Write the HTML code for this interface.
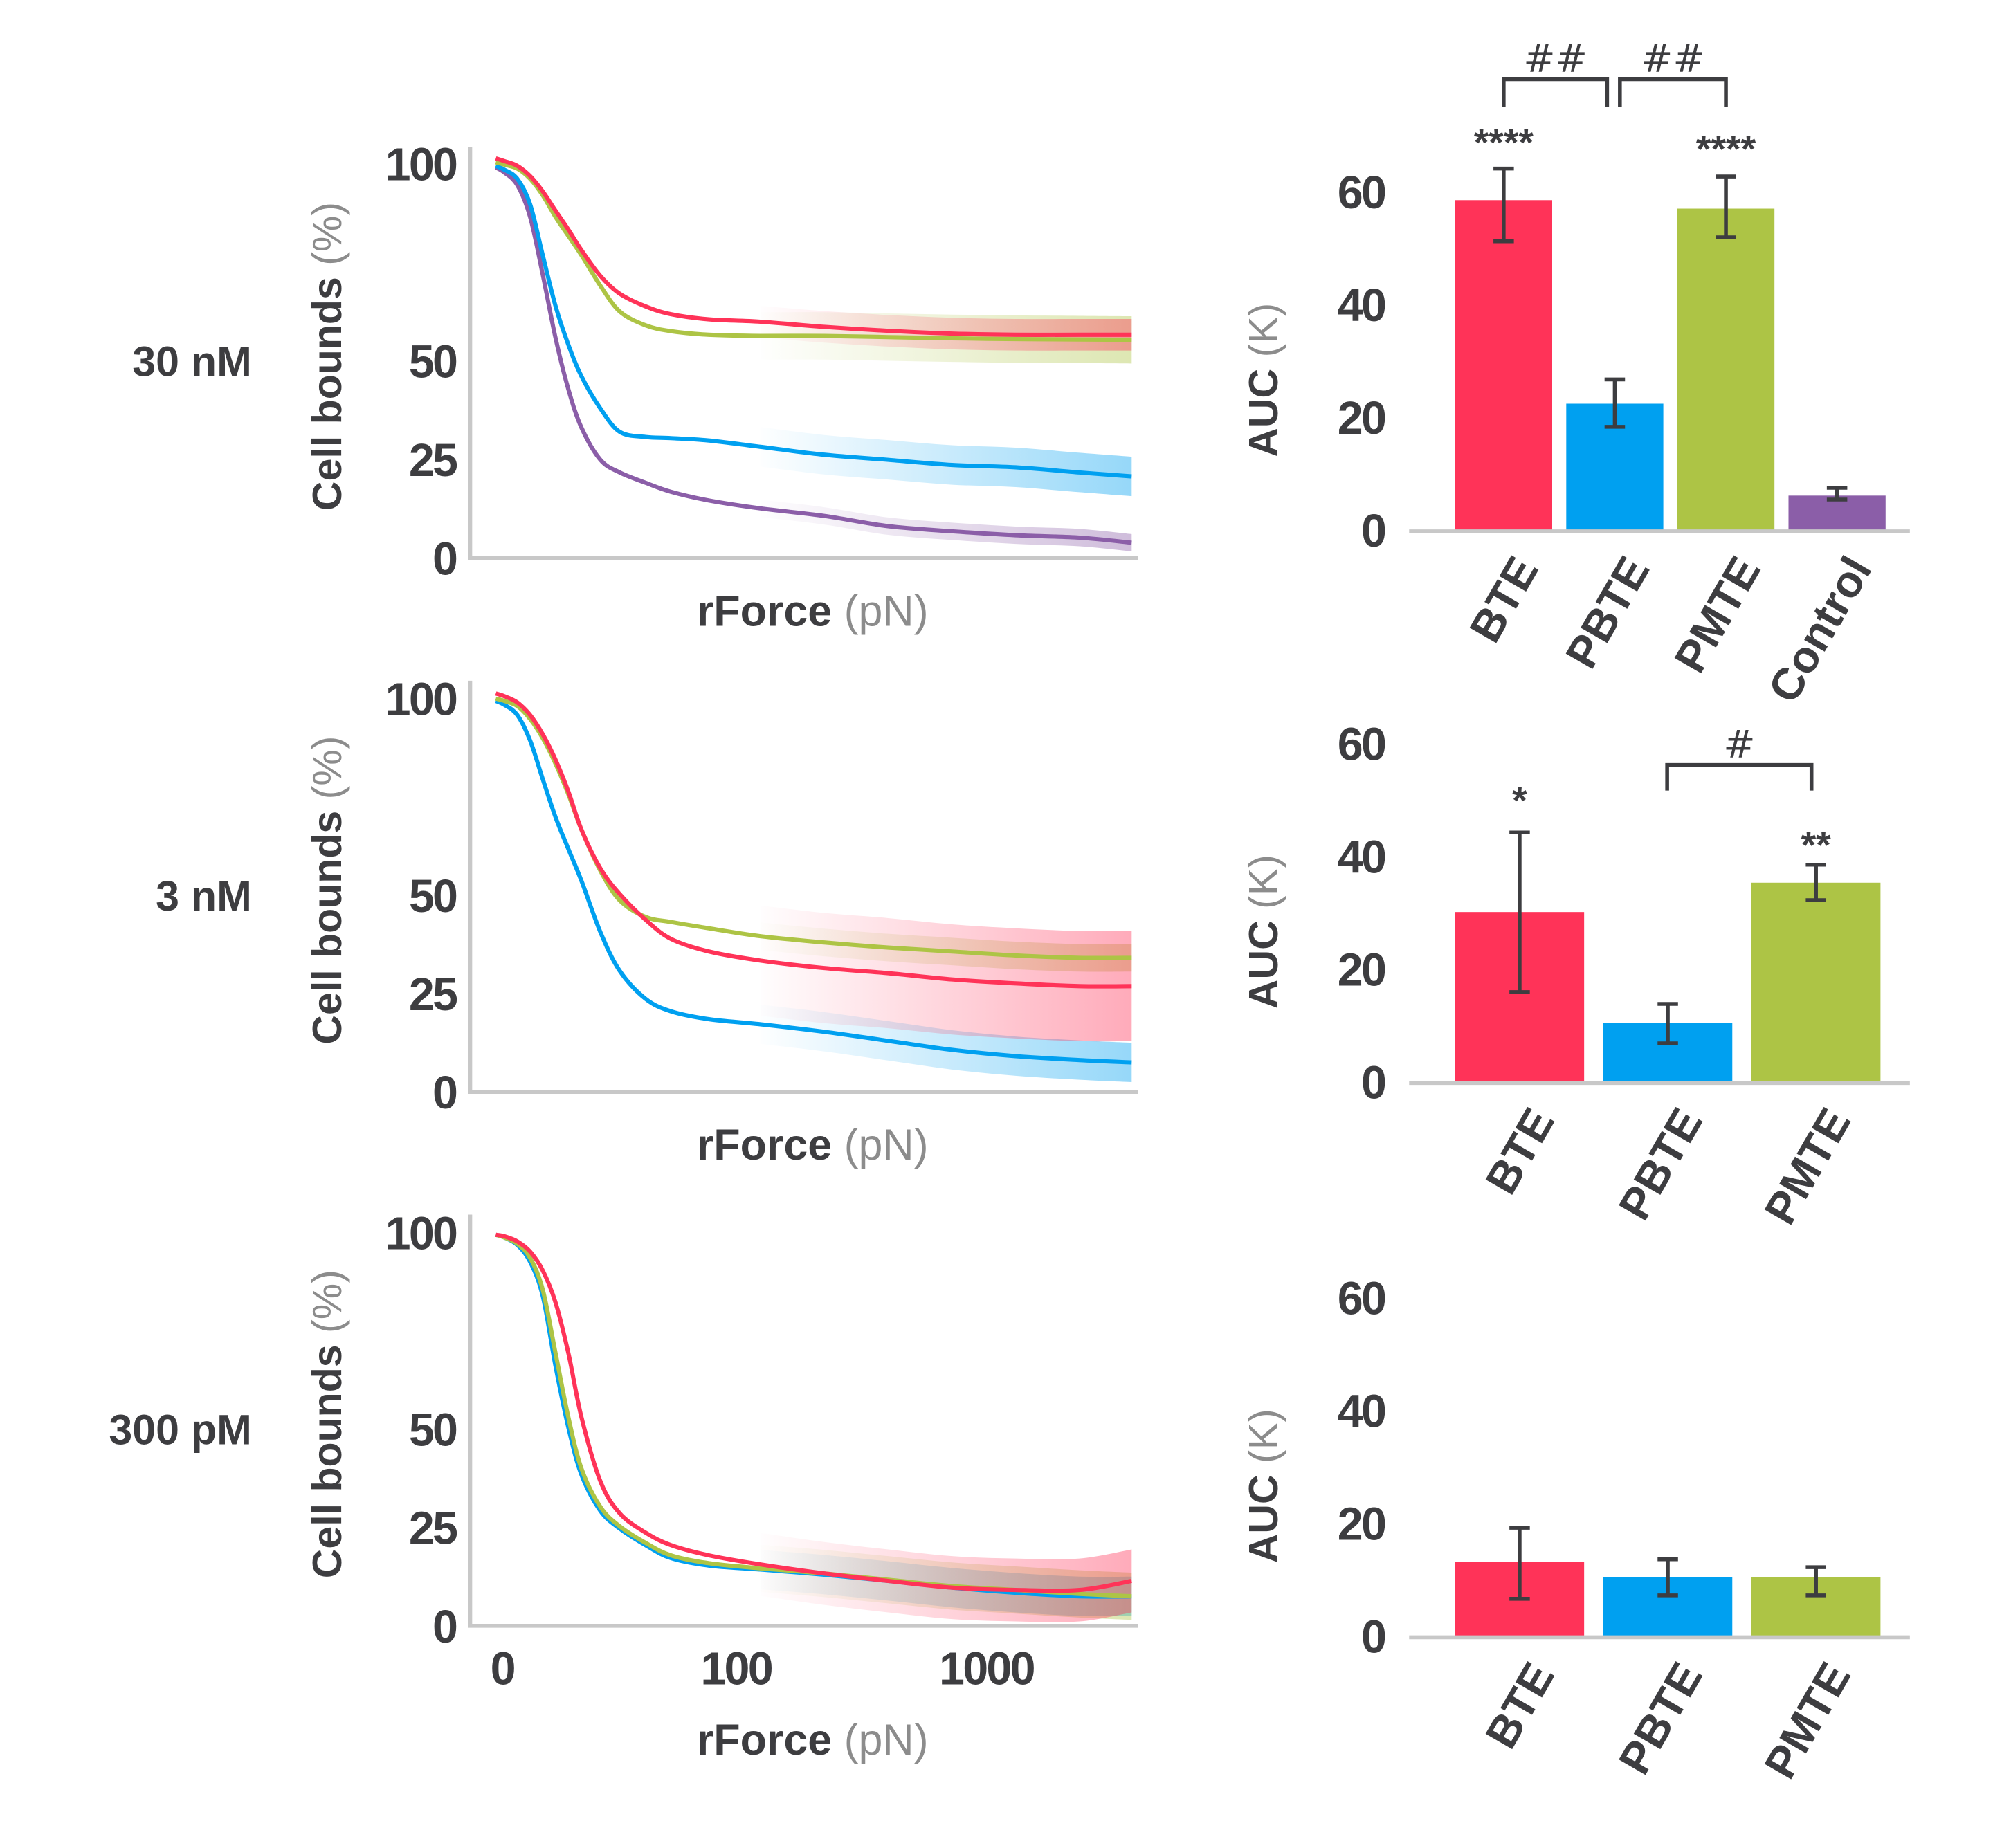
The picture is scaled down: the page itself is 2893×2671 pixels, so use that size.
<!DOCTYPE html>
<html><head><meta charset="utf-8">
<style>
html,body{margin:0;padding:0;background:#fff;}
svg{display:block;font-family:"Liberation Sans",sans-serif;}
</style></head>
<body>
<svg id="fig" width="2893" height="2671" viewBox="0 0 1567 1447" xmlns="http://www.w3.org/2000/svg">
<defs id="defs"></defs>
</svg>
<script>
// ---------- data ----------
const forces = [0,1.1,2.9,4.9,7.1,9.6,12.4,15.6,20.9,27.3,37.7,50.6,76,127,232,416,737,1295,2270,3590];
const xTickValues = [0,100,1000];
const xTickLabels = ['0','100','1000'];
const yTickValues = [0,25,50,100];
const seriesNames = ['BTE','PBTE','PMTE','Control'];
const conc = ['30 nM','3 nM','300 pM'];

// panel 1 (30 nM)
const p1Red   = [101.3,100.6,99.4,96.8,92.9,88.0,83.2,78.0,71.5,67.0,63.8,61.8,60.5,59.9,58.6,57.6,56.9,56.6,56.6,56.6];
const p1Blue  = [99.4,98.4,96.1,89.6,76.7,63.8,54.0,46.0,37.9,32.0,30.7,30.4,29.8,28.2,26.2,24.9,23.6,23.0,21.7,20.7];
const p1Green = [100.3,99.7,98.7,96.1,91.9,86.4,81.6,76.7,69.0,62.5,59.0,57.5,56.6,56.3,56.3,56.0,55.7,55.5,55.4,55.3];
const p1Purple= [99.0,97.7,94.5,86.4,71.8,55.7,42.7,33.0,24.9,21.7,19.1,16.8,14.6,12.6,10.7,8.1,6.8,5.8,5.2,3.9];
const p1RedErr = 4, p1BlueErr = 5, p1GreenErr = 6, p1PurpleErr = 2.2;
// panel 2 (3 nM)
const p2Red   = [101.3,100.6,99.0,95.8,90.9,84.4,76.3,66.6,56.8,50.3,43.8,38.9,35.7,33.4,31.5,30.2,28.6,27.6,26.9,26.9];
const p2Blue  = [99.4,98.4,95.8,89.3,79.5,69.8,61.7,53.6,40.6,30.8,23.7,20.5,18.5,17.2,15.3,13.0,10.7,9.1,8.1,7.5];
const p2Green = [100,99.4,98.1,94.8,89.9,83.4,75.6,66.6,56.2,48.7,44.5,43.2,41.6,39.6,38.0,36.7,35.7,34.7,34.1,34.1];
const p2RedErr = 14, p2BlueErr = 5, p2GreenErr = 3.5;
// panel 3 (300 pM)
const p3Red   = [99.4,99.0,97.7,95.1,90.3,82.1,69.2,52.9,36.7,28.6,23.7,20.5,17.9,15.6,13.3,11.4,9.7,9.1,9.1,11.4];
const p3Blue  = [99.4,98.7,96.8,92.5,83.8,65.9,50.3,38.3,29.2,24.7,20.5,17.2,15.3,14.3,13.0,11.4,9.7,8.4,7.5,7.5];
const p3Green = [99.4,98.7,97.1,93.5,85.4,69.2,52.9,39.9,30.2,25.3,21.1,17.9,15.9,14.6,13.3,11.7,10.1,9.1,8.1,7.5];
const p3RedErr = 8, p3BlueErr = 5, p3GreenErr = 6;

// bar charts
const auc1 = [58.5,22.4,57.0,6.1];
const auc1Lo = [51.2,18.3,51.9,5.4];
const auc1Hi = [64.1,26.7,62.7,7.5];
const auc2 = [30.1,10.4,35.3];
const auc2Lo = [15.9,6.8,32.2];
const auc2Hi = [44.2,13.8,38.5];
const auc3 = [13.1,10.4,10.4];
const auc3Lo = [6.6,7.2,7.2];
const auc3Hi = [19.2,13.6,12.2];
const aucTicks = [0,20,40,60];

// ---------- helpers ----------
const NS='http://www.w3.org/2000/svg';
const svg=document.getElementById('fig');
const defs=document.getElementById('defs');
const TXT='#3d3d40', GREY='#8c8c8c', AX='#c8c8c8';
const COL={red:'#ff3358',blue:'#00a0f0',green:'#adc445',purple:'#8b5ea8'};
function mk(tag,attrs,parent){const e=document.createElementNS(NS,tag);for(const k in attrs)e.setAttribute(k,attrs[k]);(parent||svg).appendChild(e);return e;}
function smooth(pts){let d='M'+pts[0][0]+','+pts[0][1];for(let i=0;i<pts.length-1;i++){const p0=pts[i-1]||pts[i],p1=pts[i],p2=pts[i+1],p3=pts[i+2]||p2;
 const c1=[p1[0]+(p2[0]-p0[0])/6,p1[1]+(p2[1]-p0[1])/6],c2=[p2[0]-(p3[0]-p1[0])/6,p2[1]-(p3[1]-p1[1])/6];
 d+=' C'+c1[0]+','+c1[1]+' '+c2[0]+','+c2[1]+' '+p2[0]+','+p2[1];}return d;}
const X0=388, K=206.5;
function xs(f){return X0+K*Math.log10(1+f/14);}

function linePanel(idx,top,y0,y100,series){
  const g=mk('g',{});
  
  
  const ys=v=>y0-(y0-y100)*v/100;
  const rl=mk('text',{x:197,y:ys(50)+12,'text-anchor':'end','font-size':33,'font-weight':'bold',fill:TXT},g);
  rl.textContent=conc[idx];
  
  
  const ax=mk('path',{d:`M368,${top} L368,${y0} L891,${y0}`,fill:'none',stroke:AX,'stroke-width':3},g);
  
  
  yTickValues.forEach(v=>{const t=mk('text',{x:357,y:ys(v)+13,'text-anchor':'end','font-size':36,'font-weight':'bold',fill:TXT,'letter-spacing':-1.5},g);t.textContent=String(v);
    
    });
  const yt=mk('text',{transform:`translate(267,${(top+y0)/2+3}) rotate(-90)`,'text-anchor':'middle','font-size':32,'font-weight':'bold',fill:TXT},g);
  yt.innerHTML='Cell bounds <tspan fill="'+GREY+'" font-weight="normal">(%)</tspan>';
  
  
  const xt=mk('text',{x:636,y:y0+(idx==2?101:53),'text-anchor':'middle','font-size':34,'font-weight':'bold',fill:TXT},g);
  xt.innerHTML='rForce <tspan fill="'+GREY+'" font-weight="normal">(pN)</tspan>';
  
  
  if(idx==2){xTickValues.forEach((v,i)=>{const t=mk('text',{x:xs(v)+(i==0?5:0),y:y0+46,'text-anchor':'middle','font-size':36,'font-weight':'bold',fill:TXT,'letter-spacing':-1.5},g);t.textContent=xTickLabels[i];
    
    });}
  series.forEach((s,si)=>{
    const gid='grad'+idx+'_'+si;
    const lg=mk('linearGradient',{id:gid,gradientUnits:'userSpaceOnUse',x1:590,y1:0,x2:891,y2:0},defs);
    mk('stop',{offset:0,'stop-color':s.c,'stop-opacity':0},lg);
    mk('stop',{offset:1,'stop-color':s.c,'stop-opacity':0.42},lg);
    const up=[],lo=[];
    forces.forEach((f,i)=>{if(f>=100){up.push([xs(f),ys(s.v[i]+s.e)]);lo.push([xs(f),ys(Math.max(0,s.v[i]-s.e))]);}});
    const d=smooth(up)+' L'+lo[lo.length-1][0]+','+lo[lo.length-1][1]+smooth(lo.slice().reverse()).slice(1).replace(/^[^C]*/,' ')+' Z';
    const b=mk('path',{d:d,fill:`url(#${gid})`,stroke:'none'},g);
    
    
  });
  series.forEach(s=>{
    const pts=forces.map((f,i)=>[xs(f),ys(s.v[i])]);
    const p=mk('path',{d:smooth(pts),fill:'none',stroke:s.c,'stroke-width':3.3},g);
    
    
  });
}
linePanel(0,115,437,128,[{n:'control',c:COL.purple,v:p1Purple,e:p1PurpleErr},{n:'pbte',c:COL.blue,v:p1Blue,e:p1BlueErr},{n:'pmte',c:COL.green,v:p1Green,e:p1GreenErr},{n:'bte',c:COL.red,v:p1Red,e:p1RedErr}]);
linePanel(1,533,855,547,[{n:'pbte',c:COL.blue,v:p2Blue,e:p2BlueErr},{n:'pmte',c:COL.green,v:p2Green,e:p2GreenErr},{n:'bte',c:COL.red,v:p2Red,e:p2RedErr}]);
linePanel(2,951,1273,965,[{n:'pbte',c:COL.blue,v:p3Blue,e:p3BlueErr},{n:'pmte',c:COL.green,v:p3Green,e:p3GreenErr},{n:'bte',c:COL.red,v:p3Red,e:p3RedErr}]);

function barPanel(idx,base,vals,lo,hi,left,bw,gap,cols){
  const g=mk('g',{});
  
  
  const per=88.3/20;
  const ys=v=>base-v*per;
  aucTicks.forEach(v=>{const t=mk('text',{x:1084,y:ys(v)+13,'text-anchor':'end','font-size':36,'font-weight':'bold',fill:TXT,'letter-spacing':-1.5},g);t.textContent=String(v);
    
    });
  const yt=mk('text',{transform:`translate(1000,${ys(30)+15}) rotate(-90)`,'text-anchor':'middle','font-size':32,'font-weight':'bold',fill:TXT},g);
  yt.innerHTML='AUC <tspan fill="'+GREY+'" font-weight="normal">(K)</tspan>';
  
  
  vals.forEach((v,i)=>{
    const x=left+i*(bw+gap), cx=x+bw/2;
    const r=mk('rect',{x:x,y:ys(v),width:bw,height:v*per,fill:cols[i]},g);
    
    
    const e=mk('path',{d:`M${cx-8},${ys(hi[i])} H${cx+8} M${cx},${ys(hi[i])} V${ys(lo[i])} M${cx-8},${ys(lo[i])} H${cx+8}`,stroke:TXT,'stroke-width':3,fill:'none'},g);
    
    
    const t=mk('text',{transform:`translate(${cx+28},${base+30}) rotate(-60)`,'text-anchor':'end','font-size':35,'font-weight':'bold',fill:TXT},g);
    t.textContent=seriesNames[i];
    
    
  });
  const ax=mk('line',{x1:1103,y1:base+1,x2:1495,y2:base+1,stroke:AX,'stroke-width':3},g);
  
  
  return {g,ys,cx:i=>left+i*(bw+gap)+bw/2};
}
function bracket(g,x1,x2,y,len,label){
  const p=mk('path',{d:`M${x1},${y+len} V${y} H${x2} V${y+len}`,stroke:TXT,'stroke-width':3,fill:'none'},g);
  
  
  const t=mk('text',{x:(x1+x2)/2,y:y-6,'text-anchor':'middle','font-size':30,'font-family':'DejaVu Sans, sans-serif',fill:TXT},g);
  t.textContent=label;
  
  
}
function stars(g,x,y,s){const t=mk('text',{x:x,y:y,'text-anchor':'middle','font-size':30,'font-weight':'bold',fill:TXT},g);t.textContent=s;
  
  }

const b1=barPanel(0,415,auc1,auc1Lo,auc1Hi,1139,76,11,[COL.red,COL.blue,COL.green,COL.purple]);
bracket(b1.g,1177,1258,62,22,'##');bracket(b1.g,1268,1351,62,22,'##');
stars(b1.g,b1.cx(0),122,'****');stars(b1.g,b1.cx(2),127,'****');
const b2=barPanel(1,847,auc2,auc2Lo,auc2Hi,1139,101,15,[COL.red,COL.blue,COL.green]);
bracket(b2.g,1305,1418,599,20,'#');
stars(b2.g,b2.cx(0),637,'*');stars(b2.g,b2.cx(2),672,'**');
barPanel(2,1281,auc3,auc3Lo,auc3Hi,1139,101,15,[COL.red,COL.blue,COL.green]);
</script>
</body></html>
